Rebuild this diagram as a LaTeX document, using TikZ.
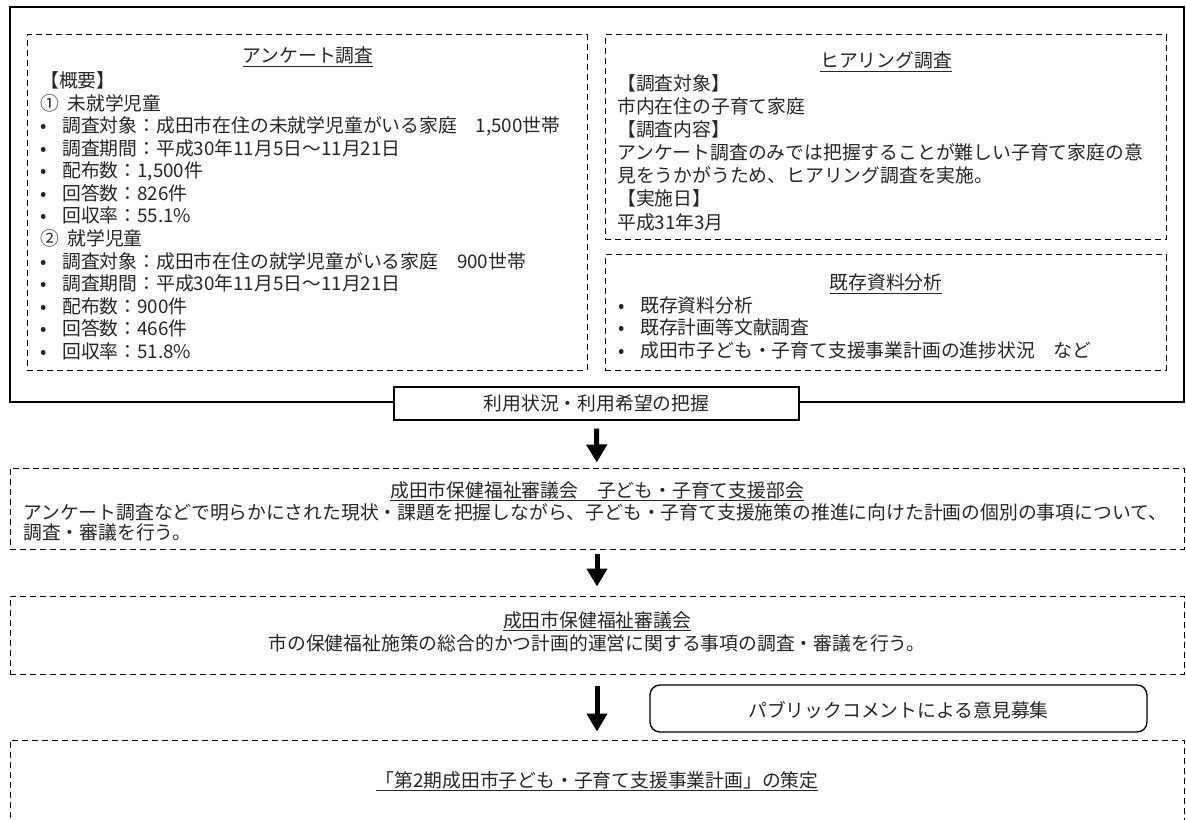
\documentclass[tikz,border=0pt]{standalone}
\usepackage{fontspec}
\setmainfont{Noto Sans CJK JP}
\usetikzlibrary{positioning,fit,arrows.meta}

\newcommand{\blt}{\makebox[16.5pt][l]{•}}

\begin{document}
\begin{tikzpicture}[%
    x=0.75pt, y=-0.75pt,
    txt/.style={%
        font=\fontsize{14.1pt}{17pt}\selectfont,
        text=black!85,
        inner sep=0pt
    },
    headline/.style={%
        txt,
        anchor=base
    },
    entry/.style={%
        txt,
        anchor=base west
    },
    frame/.style={%
        draw,
        line width=1.1pt,
        inner sep=0pt
    },
    dashbox/.style={%
        draw,
        dash pattern=on 4.5pt off 3pt,
        line width=0.75pt,
        inner sep=0pt
    },
    bandbox/.style={%
        draw,
        fill=white,
        line width=1.1pt,
        inner sep=0pt
    },
    notebox/.style={%
        draw,
        rounded corners=7.5pt,
        line width=1pt,
        inner sep=0pt
    },
    flowarrow/.style={%
        line width=3.75pt,
        -{Triangle[width=15pt,length=13.5pt]}
    }
]
\path[use as bounding box, clip] (0,0) rectangle (1186,820);

% Survey frame
    \node[frame, fit={(10,7) (1184,402)}] (survey) {};
    \node[dashbox, fit={(27,35) (587,370)}] (enquete) {};
    \node[dashbox, fit={(605,35) (1166,240)}] (hearing) {};
    \node[dashbox, fit={(605,255) (1166,370)}] (existing) {};

% Questionnaire
    \node[headline] (enqtitle) at (308,63) {\underline{アンケート調査}};
    \foreach \line [count=\i] in {%
        【概要】,
        ①\hspace{0.45em}未就学児童,
        {\blt 調査対象：成田市在住の未就学児童がいる家庭　1,500世帯},
        \blt 調査期間：平成30年11月5日～11月21日,
        {\blt 配布数：1,500件},
        \blt 回答数：826件,
        \blt 回収率：55.1\%,
        ②\hspace{0.45em}就学児童,
        \blt 調査対象：成田市在住の就学児童がいる家庭　900世帯,
        \blt 調査期間：平成30年11月5日～11月21日,
        \blt 配布数：900件,
        \blt 回答数：466件,
        \blt 回収率：51.8\%}
        \node[entry] (enq\i) at (40,{88+22.5*(\i-1)}) {\line};

% Hearing
    \node[headline] (hearingtitle) at (886,68) {\underline{ヒアリング調査}};
    \foreach \line [count=\i] in {%
        【調査対象】,
        市内在住の子育て家庭,
        【調査内容】,
        アンケート調査のみでは把握することが難しい子育て家庭の意,
        見をうかがうため、ヒアリング調査を実施。,
        【実施日】,
        平成31年3月}
        \node[entry] (hear\i) at (617,{91+23*(\i-1)}) {\line};

% Existing documents
    \node[headline] (existingtitle) at (886,290) {\underline{既存資料分析}};
    \foreach \line [count=\i] in {%
        \blt 既存資料分析,
        \blt 既存計画等文献調査,
        \blt 成田市子ども・子育て支援事業計画の進捗状況　など}
        \node[entry] (exist\i) at (618,{312+22.5*(\i-1)}) {\line};

% Result
    \node[bandbox, fit={(394,387) (799,420)}] (usage) {};
    \node[txt] (usagetext) at (usage.center) {利用状況・利用希望の把握};

% Sub-committee
    \node[dashbox, fit={(10,468) (1184,549)}] (committee) {};
    \node[headline] (committeetitle) at (597,497) {\underline{成田市保健福祉審議会　子ども・子育て支援部会}};
    \node[entry] (committee1) at (23,519) {アンケート調査などで明らかにされた現状・課題を把握しながら、子ども・子育て支援施策の推進に向けた計画の個別の事項について、};
    \node[entry] (committee2) at (23,539) {調査・審議を行う。};

% Council
    \node[dashbox, fit={(10,596) (1184,674)}] (council) {};
    \node[headline] (counciltitle) at (597,627) {\underline{成田市保健福祉審議会}};
    \node[headline] (councilbody) at (597,650) {市の保健福祉施策の総合的かつ計画的運営に関する事項の調査・審議を行う。};

% Public comment
    \node[notebox, fit={(650,685) (1147,732)}] (public) {};
    \node[txt] (publictext) at ([yshift=-1.5pt]public.center) {パブリックコメントによる意見募集};

% Plan
    \node[dashbox, fit={(10,740) (1184,850)}] (plan) {};
    \node[headline] (plantitle) at (597,787) {\underline{「第2期成田市子ども・子育て支援事業計画」の策定}};

% Arrows
\draw[flowarrow, shorten <=6pt, shorten >=3.75pt] (usage) -- (committee);
\draw[flowarrow, shorten <=3pt, shorten >=6.75pt] (committee) -- (council);
\draw[flowarrow, shorten <=8.25pt, shorten >=6pt] (council) -- (plan);

\end{tikzpicture}
\end{document}
